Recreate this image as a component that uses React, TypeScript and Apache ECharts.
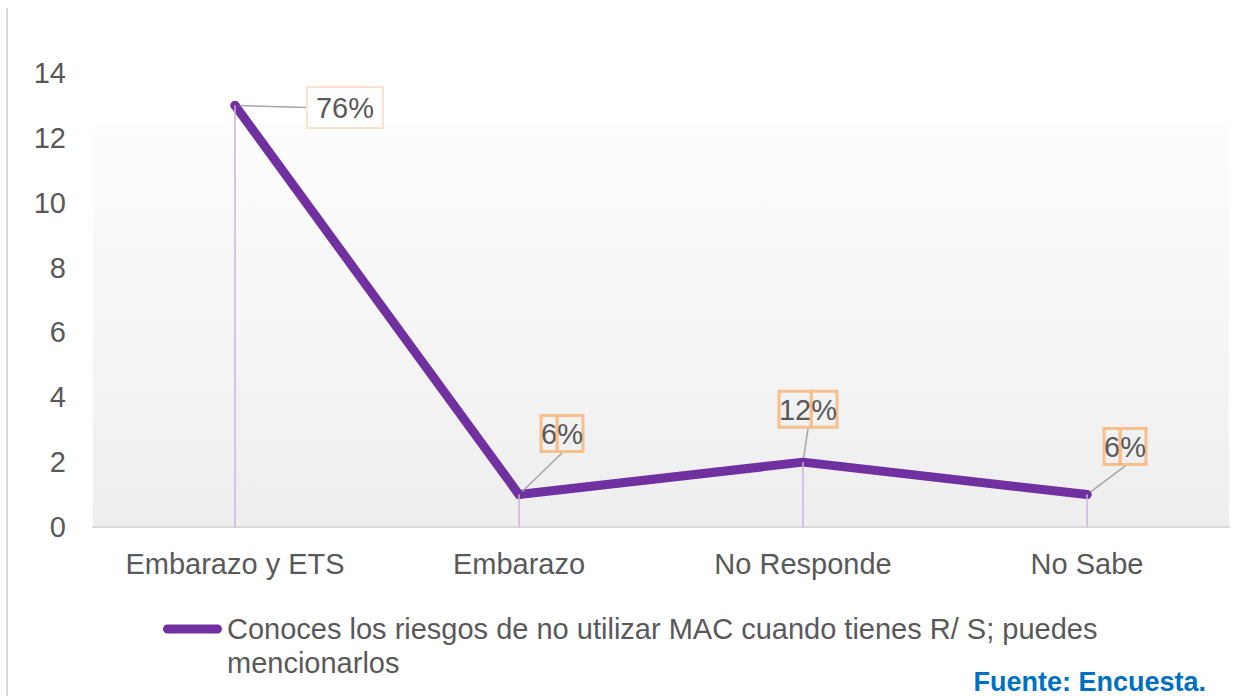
import React, { useEffect, useRef } from "react";
import * as echarts from "echarts";

const categories = ["Embarazo y ETS", "Embarazo", "No Responde", "No Sabe"];
const values = [13, 1, 2, 1];
const pctLabels = ["76%", "6%", "12%", "6%"];
const seriesName = "Conoces los riesgos de no utilizar MAC cuando tienes R/ S; puedes mencionarlos";
const yTicks = { min: 0, max: 14, interval: 2 };
const source = "Fuente: Encuesta.";

const labelShift = [
  [110, 2],
  [43, -61],
  [5, -53],
  [38, -48],
];

const FONT = "'Liberation Sans', Arial, sans-serif";
const TXT = "#595959";
const FS = 29;

// rounded bar at top of a taller (invisible) box so the icon sits on the first text line
const LEGEND_ICON =
  "path://M4.5,0 L54.5,0 A4.5,4.5 0 0 1 54.5,9 L4.5,9 A4.5,4.5 0 0 1 4.5,0 Z M0,43 L0.01,43 L0,43.01 Z";

export default function App() {
  const ref = useRef<HTMLDivElement>(null);
  useEffect(() => {
    const chart = echarts.init(ref.current!, null, { renderer: "svg" });
    const data = values.map((v, i) => {
      const txt = pctLabels[i];
      const formatter =
        i === 0 ? `{plain|${txt}}` : `{box|${txt.slice(0, -1)}}{box|%}`;
      return { value: v, label: { formatter } };
    });
    chart.setOption({
      animation: false,
      textStyle: { fontFamily: FONT },
      grid: {
        left: 93,
        right: 24,
        top: 73,
        bottom: 169,
        show: true,
        borderWidth: 0,
        backgroundColor: new echarts.graphic.LinearGradient(0, 0, 0, 1, [
          { offset: 0, color: "#ffffff" },
          { offset: 0.114, color: "#ffffff" },
          { offset: 0.115, color: "#fdfdfd" },
          { offset: 1, color: "#eeeeee" },
        ]),
      },
      legend: {
        left: 163,
        top: 612,
        padding: 0,
        icon: LEGEND_ICON,
        itemWidth: 59,
        itemHeight: 43,
        itemGap: 10,
        textStyle: {
          color: TXT,
          fontSize: FS,
          fontFamily: FONT,
          width: 930,
          overflow: "break",
          lineHeight: 34,
        },
        data: [{ name: seriesName, itemStyle: { color: "#7030a0" } }],
      },
      xAxis: {
        type: "category",
        data: categories,
        boundaryGap: true,
        axisLine: { lineStyle: { color: "#d9d9d9", width: 2 } },
        axisTick: { show: false },
        axisLabel: { color: TXT, fontSize: FS, margin: 22, fontFamily: FONT, interval: 0 },
      },
      yAxis: {
        type: "value",
        min: yTicks.min,
        max: yTicks.max,
        interval: yTicks.interval,
        splitLine: { show: false },
        axisLine: { show: false },
        axisLabel: { color: TXT, fontSize: FS, margin: 27, fontFamily: FONT },
      },
      series: [
        {
          name: seriesName,
          type: "line",
          data,
          symbol: "circle",
          symbolSize: 9,
          itemStyle: { color: "#7030a0" },
          lineStyle: { color: "#7030a0", width: 9, cap: "round", join: "round" },
          label: {
            show: true,
            position: "inside",
            color: TXT,
            fontSize: FS,
            fontFamily: FONT,
            rich: {
              plain: {
                fontSize: FS,
                color: TXT,
                fontFamily: FONT,
                borderColor: "#fde3cf",
                borderWidth: 2,
                backgroundColor: "#ffffff",
                padding: [6, 8, 4, 8],
              },
              box: {
                fontSize: FS,
                color: TXT,
                fontFamily: FONT,
                borderColor: "#f8bf8c",
                borderWidth: 3,
                padding: [4, 0, 3, 0],
              },
            },
          },
          labelLine: { show: true, lineStyle: { color: "#a6a6a6", width: 1.5 } },
          labelLayout: (p: any) => ({
            dx: labelShift[p.dataIndex][0],
            dy: labelShift[p.dataIndex][1],
          }),
          markLine: {
            silent: true,
            symbol: "none",
            label: { show: false },
            lineStyle: { color: "#c9b5e0", width: 1.5, type: "solid" },
            data: values.map((v, i) => [
              { coord: [i, 0] },
              { coord: [i, v] },
            ]),
          },
          z: 3,
        },
      ],
      graphic: [
        {
          type: "line",
          shape: { x1: 7, y1: 8, x2: 7, y2: 696 },
          style: { stroke: "#d9d9d9", lineWidth: 2 },
        },
        {
          type: "text",
          right: 47,
          top: 668,
          style: {
            text: source,
            fill: "#0070c0",
            font: `bold 27px ${FONT}`,
          },
        },
      ],
    });
    return () => chart.dispose();
  }, []);
  return (
    <div
      ref={ref}
      style={{ position: "absolute", left: 0, top: 0, width: 1253, height: 696 }}
    />
  );
}
